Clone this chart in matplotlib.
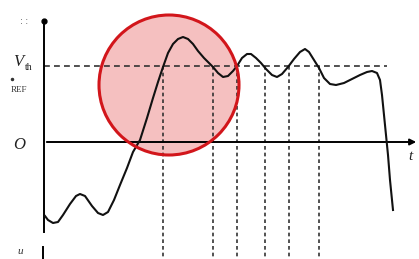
import matplotlib
matplotlib.use("Agg")
import matplotlib.pyplot as plt
from matplotlib.patches import Circle

# waveform (pixel-like coords, y grows downwards)
wave_x = [45, 48, 53, 58, 63, 70, 76, 80, 85, 92, 98, 103, 108, 114, 120, 127, 133, 140,
          147, 153, 158, 163, 168, 173, 178, 183, 188, 193, 198, 204, 209, 213, 218, 223,
          228, 233, 237, 242, 247, 251, 256, 261, 266, 272, 277, 282, 288, 294, 300, 305,
          309, 314, 319, 324, 330, 336, 344, 352, 360, 367, 372, 377, 380, 382, 384, 386,
          388, 390, 392, 393]
wave_y = [216, 220, 223, 222, 215, 204, 196, 194, 196, 206, 213, 215, 212, 200, 185, 168, 152, 140,
          118, 98, 82, 67, 53, 44, 39, 37, 39, 44, 51, 58, 63, 67, 73, 77,
          76, 71, 66, 58, 54, 54, 58, 63, 69, 75, 77, 74, 67, 59, 52, 49,
          52, 60, 68, 78, 84, 85, 83, 79, 75, 72, 71, 73, 80, 95, 115, 135,
          155, 180, 200, 210]

vref_y = 66
zero_y = 142
cross_x = [163, 213, 237, 265, 289, 319]

fig = plt.figure(figsize=(4.19, 2.59), dpi=100)
ax = fig.add_axes([0, 0, 1, 1])
ax.set_xlim(0, 419)
ax.set_ylim(259, 0)
ax.axis("off")

# highlight circle
ax.add_patch(Circle((169, 85), 70, facecolor="#f5c0c0", edgecolor="none", zorder=1))

# axes
ax.plot([44, 44], [21, 232], color="black", lw=1.4, zorder=3)
ax.plot([43, 43], [247, 259], color="black", lw=1.4, zorder=3)
ax.plot([44], [21], "ko", ms=3.5, zorder=3)
ax.annotate("", xy=(419, zero_y), xytext=(44, zero_y),
            arrowprops=dict(arrowstyle="-|>", color="black", lw=1.4,
                            mutation_scale=9), zorder=3)

# reference level and crossing lines
ax.plot([44, 387], [vref_y, vref_y], color="#333333", lw=1.2, ls=(0, (3.5, 2.5)), zorder=2)
for x in cross_x:
    ax.plot([x, x], [vref_y, 259], color="#333333", lw=1.2, ls=(0, (2.2, 1.8)), zorder=2)

ax.plot(wave_x, wave_y, color="#111111", lw=1.5, zorder=3)

ax.add_patch(Circle((169, 85), 70, facecolor="none", edgecolor="#d2161b", lw=2.2, zorder=4))

# labels
serif = ["Liberation Serif", "DejaVu Serif"]
ax.text(13, 66, "V", fontsize=12, family=serif, style="italic", ha="left", va="baseline",
        color="#222222")
ax.text(25, 70, "th", fontsize=7, family=serif, ha="left", va="baseline", color="#222222")
ax.plot([12], [79], "o", color="#333333", ms=1.5)
ax.text(11, 92, "REF", fontsize=6.5, family=serif, ha="left", va="baseline", color="#333333")
ax.text(19, 145, "O", fontsize=12, family=serif, style="italic", ha="center", va="center",
        color="#222222")
ax.text(410, 156, "t", fontsize=11, family=serif, style="italic", ha="center", va="center",
        color="#222222")
ax.text(24, 21, ": :", fontsize=6, ha="center", va="center", color="#333333")
ax.text(20, 251, "u", fontsize=8, family=serif, style="italic", ha="center", va="center",
        color="#333333")

fig.savefig("out.png", dpi=100)
